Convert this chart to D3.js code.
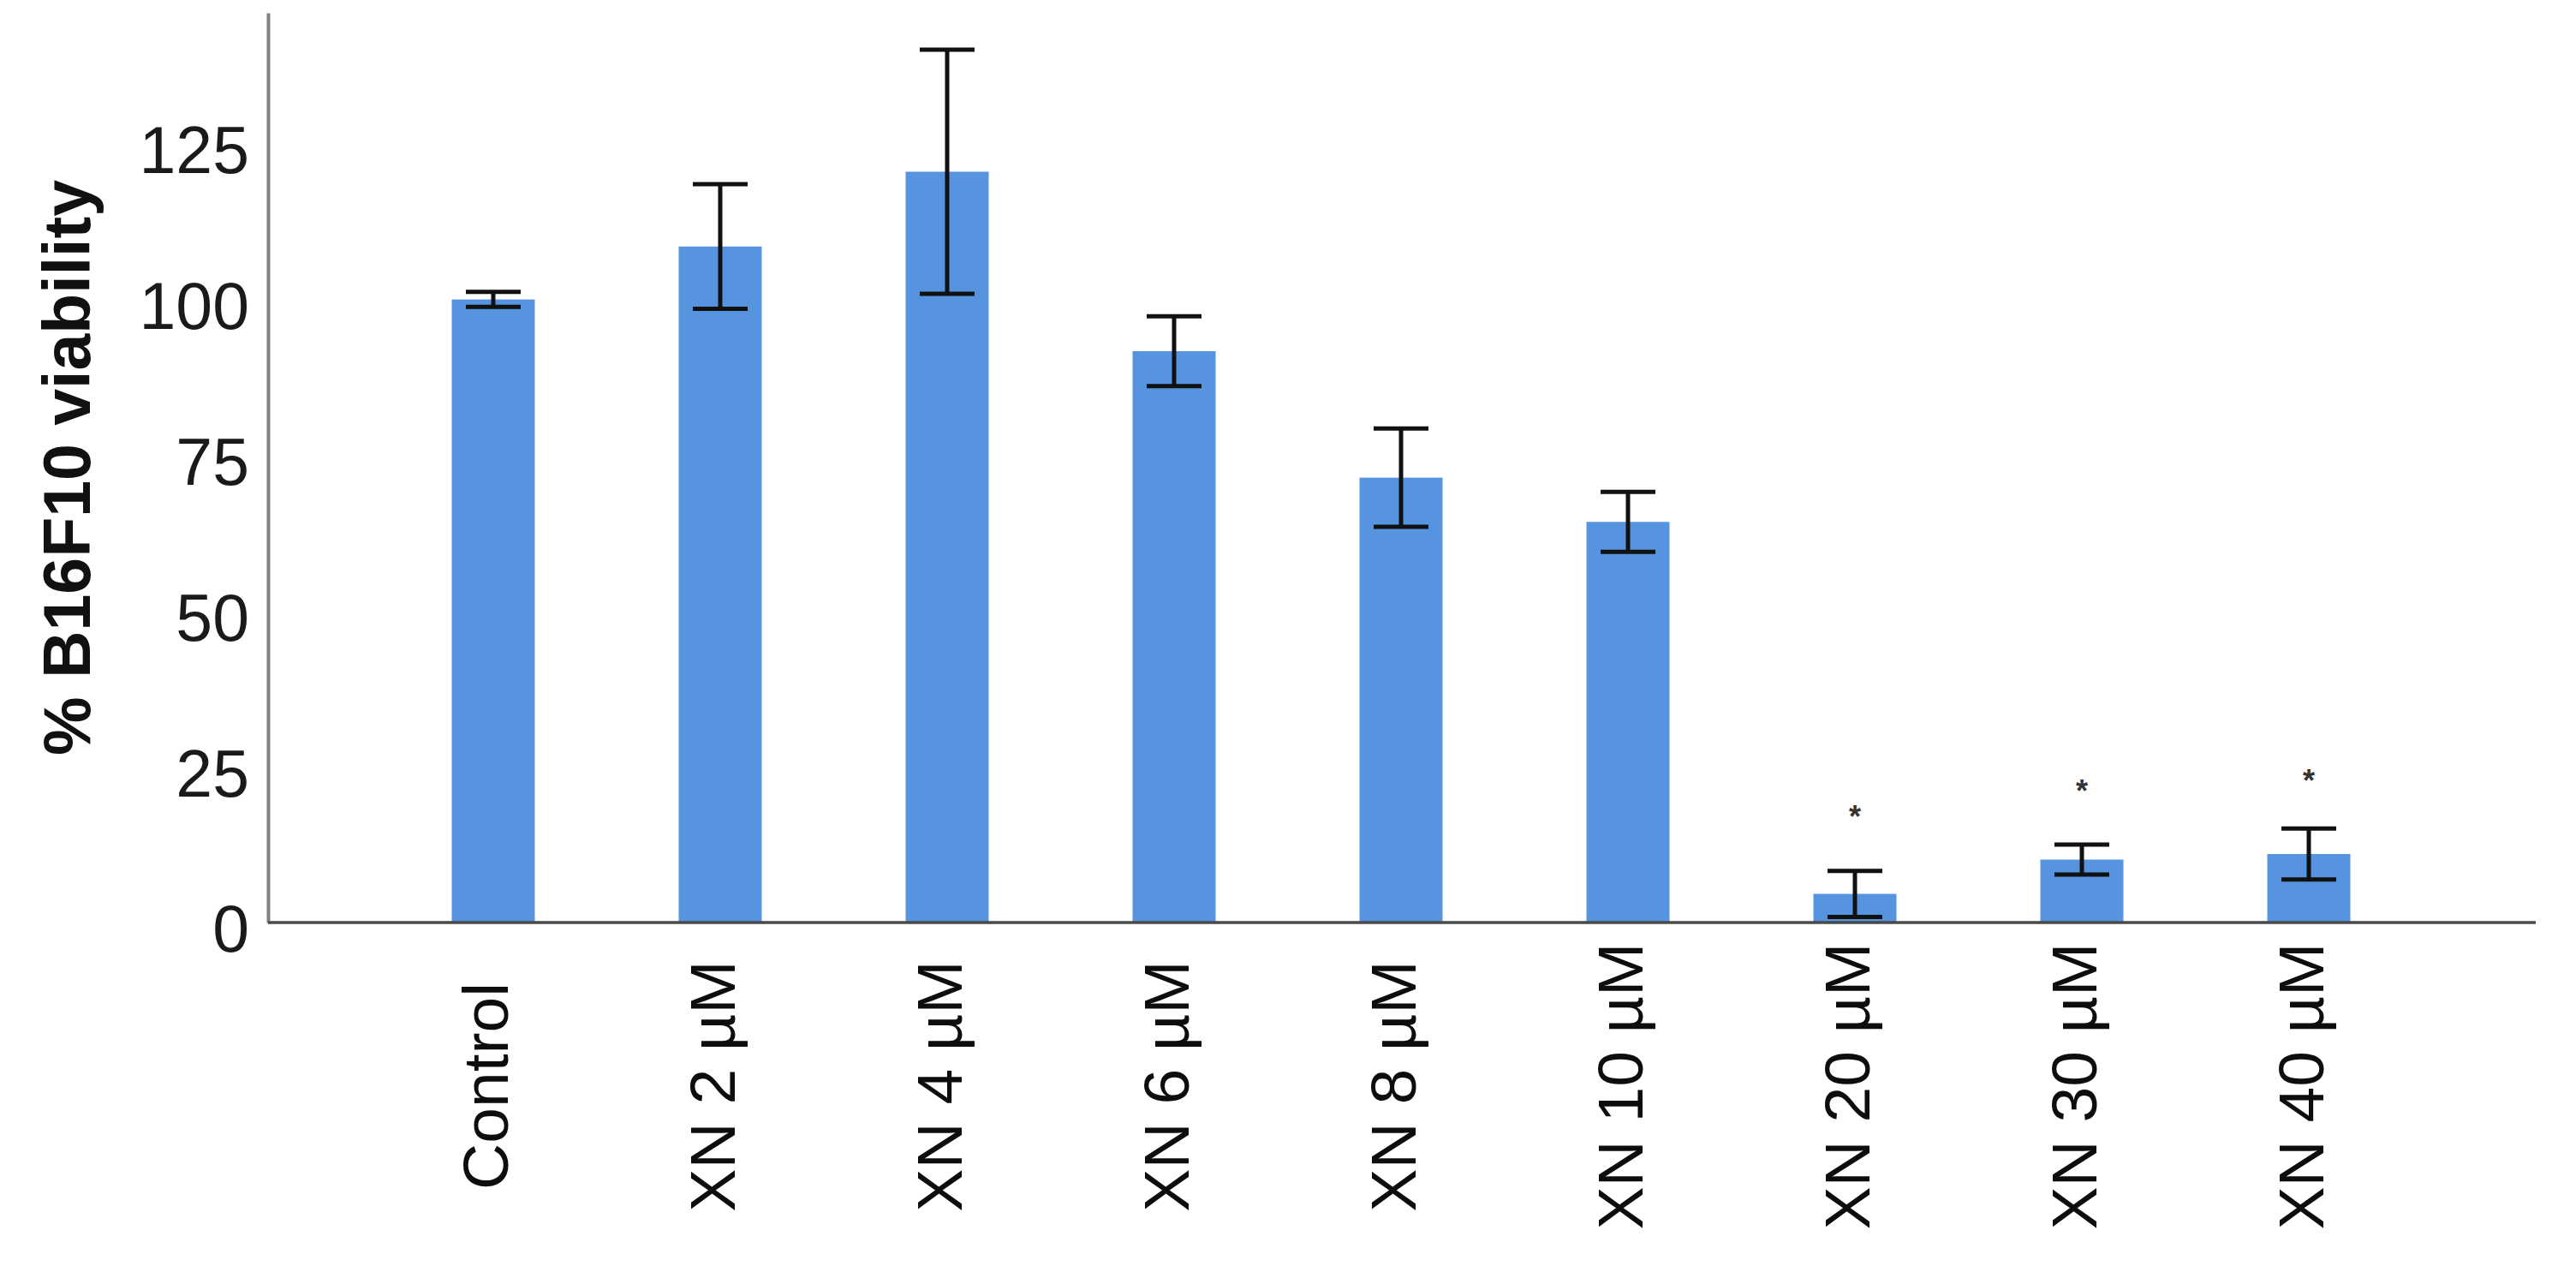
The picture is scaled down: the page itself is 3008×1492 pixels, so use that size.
<!DOCTYPE html>
<html>
<head>
<meta charset="utf-8">
<script src="https://cdn.jsdelivr.net/npm/d3@7"></script>
<style>
  html, body { margin: 0; padding: 0; background: #ffffff; }
  svg { display: block; }
  text { font-family: "Liberation Sans", Arial, sans-serif; }
</style>
</head>
<body>
<svg id="chart" width="3008" height="1492"></svg>
<script>
// ---- data ----
const categories = ["Control", "XN 2 µM", "XN 4 µM", "XN 6 µM", "XN 8 µM", "XN 10 µM", "XN 20 µM", "XN 30 µM", "XN 40 µM"];
const viability = [100.0, 108.5, 120.5, 91.7, 71.4, 64.3, 4.6, 10.1, 11.0];
const errors = [1.2, 10.0, 19.6, 5.6, 7.9, 4.8, 3.7, 2.4, 4.1];
const significance = ["", "", "", "", "", "", "*", "*", "*"];
const sigHeights = [null, null, null, null, null, null, 18.0, 22.1, 23.8];
const yTicks = [0, 25, 50, 75, 100, 125];
const yTitle = "% B16F10 viability";

// ---- layout ----
const W = 3008, H = 1492;
const axisLeftX = 313, axisRightX = 2961;
const baseY = 1077, topY = 15;

const svg = d3.select("#chart");
svg.append("rect").attr("width", W).attr("height", H).attr("fill", "#ffffff");

const x = d3.scaleBand()
  .domain(categories)
  .range([443.5, 2828.5])
  .paddingInner(0.634)
  .paddingOuter(0.317);

const y = d3.scaleLinear().domain([0, 146]).range([baseY, topY]);

const data = categories.map((c, i) => ({
  cat: c, v: viability[i], e: errors[i], sig: significance[i], sh: sigHeights[i]
}));

// bars
svg.append("g").selectAll("rect").data(data).join("rect")
  .attr("x", d => x(d.cat))
  .attr("y", d => y(d.v))
  .attr("width", x.bandwidth())
  .attr("height", d => y(0) - y(d.v))
  .attr("fill", "#5694E0");

// y axis
const yAxis = svg.append("g")
  .attr("transform", `translate(${axisLeftX},0)`)
  .call(d3.axisLeft(y).tickValues(yTicks).tickSize(0).tickPadding(22));
yAxis.select(".domain").attr("stroke", "#808080").attr("stroke-width", 4);
yAxis.selectAll("text")
  .attr("font-size", 77)
  .attr("fill", "#1a1a1a")
  .attr("dy", "0.44em");

// x axis baseline
svg.append("line")
  .attr("x1", axisLeftX).attr("x2", axisRightX)
  .attr("y1", y(0)).attr("y2", y(0))
  .attr("stroke", "#4a4a4a").attr("stroke-width", 3.5);

// x axis labels
const xAxis = svg.append("g")
  .attr("transform", `translate(0,${baseY})`)
  .call(d3.axisBottom(x).tickSize(0));
xAxis.select(".domain").remove();
xAxis.selectAll("text")
  .attr("font-size", 75)
  .attr("fill", "#0d0d0d")
  .attr("text-anchor", "middle")
  .attr("transform", "rotate(-90)")
  .attr("x", -191)
  .attr("y", 17)
  .attr("dy", null);

// error bars
const capW = 64;
const eb = svg.append("g").attr("stroke", "#111111").attr("stroke-width", 5).attr("fill", "none");
eb.selectAll("line.v").data(data).join("line").attr("class", "v")
  .attr("x1", d => x(d.cat) + x.bandwidth() / 2)
  .attr("x2", d => x(d.cat) + x.bandwidth() / 2)
  .attr("y1", d => y(d.v + d.e))
  .attr("y2", d => y(d.v - d.e));
eb.selectAll("line.top").data(data).join("line").attr("class", "top")
  .attr("x1", d => x(d.cat) + x.bandwidth() / 2 - capW / 2)
  .attr("x2", d => x(d.cat) + x.bandwidth() / 2 + capW / 2)
  .attr("y1", d => y(d.v + d.e))
  .attr("y2", d => y(d.v + d.e));
eb.selectAll("line.bot").data(data).join("line").attr("class", "bot")
  .attr("x1", d => x(d.cat) + x.bandwidth() / 2 - capW / 2)
  .attr("x2", d => x(d.cat) + x.bandwidth() / 2 + capW / 2)
  .attr("y1", d => y(d.v - d.e))
  .attr("y2", d => y(d.v - d.e));

// significance marks
svg.append("g").selectAll("text").data(data.filter(d => d.sig)).join("text")
  .attr("x", d => x(d.cat) + x.bandwidth() / 2)
  .attr("y", d => y(d.sh))
  .attr("dy", "0.55em")
  .attr("text-anchor", "middle")
  .attr("font-size", 36)
  .attr("font-weight", "bold")
  .attr("fill", "#333333")
  .text(d => d.sig);

// y title
svg.append("text")
  .attr("transform", "translate(105,546) rotate(-90)")
  .attr("text-anchor", "middle")
  .attr("font-size", 77)
  .attr("font-weight", "bold")
  .attr("fill", "#111111")
  .text(yTitle);
</script>
</body>
</html>
